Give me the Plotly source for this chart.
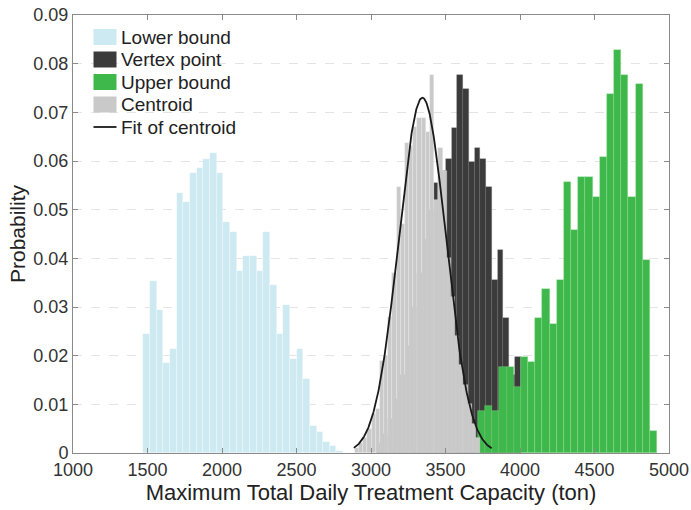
import numpy as np
import plotly.graph_objects as go

# ---- data ----
lower_start, lower_width = 1472.0, 44.7
lower_vals = [0.0245, 0.0354, 0.0294, 0.0184, 0.0214, 0.0535, 0.0515, 0.0576, 0.0585, 0.0605,
              0.0616, 0.0576, 0.0475, 0.0455, 0.0375, 0.0405, 0.0405, 0.0375, 0.0455, 0.0345,
              0.0245, 0.0304, 0.0194, 0.0214, 0.0153, 0.0055, 0.0044, 0.0023, 0.0014, 0.0005]

vertex_start, vertex_width = 3040.0, 38.6
vertex_vals = [0.002, 0.004, 0.007, 0.011, 0.016, 0.022, 0.030, 0.037, 0.044, 0.050,
               0.0554, 0.058, 0.0605, 0.0667, 0.0777, 0.0747, 0.0597, 0.0626, 0.0605, 0.0547,
               0.0355, 0.0417, 0.0277, 0.016, 0.0197]

upper_start, upper_width = 3718.0, 48.1
upper_vals = [0.0087, 0.0097, 0.0087, 0.0177, 0.0177, 0.0135, 0.0197, 0.0186, 0.0277, 0.0337,
              0.0266, 0.0356, 0.0556, 0.0458, 0.0568, 0.0568, 0.0527, 0.0609, 0.0738, 0.0828,
              0.0777, 0.0527, 0.0758, 0.0397, 0.0046]

centroid_start, centroid_width = 2892.0, 28.0
centroid_vals = [0.001, 0.002, 0.003, 0.005, 0.008, 0.009, 0.019, 0.020, 0.028, 0.037,
                 0.0547, 0.047, 0.0636, 0.063, 0.067, 0.0688, 0.0688, 0.066, 0.0777, 0.052,
                 0.0626, 0.058, 0.040, 0.032, 0.024, 0.018, 0.014, 0.010, 0.006, 0.003]

# normal fit of centroid
fit_mu, fit_sigma, fit_peak = 3345.0, 158.0, 0.0730
fit_xmin, fit_xmax = 2885.0, 3810.0

x_ticks = [1000, 1500, 2000, 2500, 3000, 3500, 4000, 4500, 5000]
y_ticks = [0, 0.01, 0.02, 0.03, 0.04, 0.05, 0.06, 0.07, 0.08, 0.09]

legend_names = ["Lower bound", "Vertex point", "Upper bound", "Centroid", "Fit of centroid"]
colors = {"Lower bound": "#cde9f1", "Vertex point": "#3b3b3b",
          "Upper bound": "#3eb84b", "Centroid": "#c9c9c9", "Fit of centroid": "#1a1a1a"}
edge_colors = {"Lower bound": "rgba(255,255,255,0.55)", "Vertex point": "rgba(110,110,110,0.5)",
               "Upper bound": "rgba(150,220,150,0.6)", "Centroid": "rgba(235,235,235,0.6)"}


def centers(start, width, vals):
    return start + width * (np.arange(len(vals)) + 0.5)


W, H = 691, 510
ML, MR, MT, MB = 73, 22, 15, 57
PW, PH = W - ML - MR, H - MT - MB

fig = go.Figure()

series = [
    ("Lower bound", lower_start, lower_width, lower_vals),
    ("Vertex point", vertex_start, vertex_width, vertex_vals),
    ("Upper bound", upper_start, upper_width, upper_vals),
    ("Centroid", centroid_start, centroid_width, centroid_vals),
]
for name, s, w, v in series:
    fig.add_trace(go.Bar(
        x=centers(s, w, v), y=v, width=w, name=name, showlegend=False,
        marker=dict(color=colors[name], line=dict(color=edge_colors[name], width=0.6)),
    ))

xf = np.linspace(fit_xmin, fit_xmax, 300)
yf = fit_peak * np.exp(-0.5 * ((xf - fit_mu) / fit_sigma) ** 2)
fig.add_trace(go.Scatter(x=xf, y=yf, mode="lines", name="Fit of centroid", showlegend=False,
                         line=dict(color=colors["Fit of centroid"], width=1.8)))

# ---- legend drawn manually (swatch + real text) ----
def px_to_paper(px, py):
    return (px - ML) / PW, 1 - (py - MT) / PH

shapes, annotations = [], []
leg_top, leg_step = 37.0, 22.5
sw_x0, sw_x1, sw_h = 93.5, 116.5, 16.0
for i, name in enumerate(legend_names):
    cy = leg_top + i * leg_step
    x0, y0 = px_to_paper(sw_x0, cy + sw_h / 2)
    x1, y1 = px_to_paper(sw_x1, cy - sw_h / 2)
    if name == "Fit of centroid":
        xa, ya = px_to_paper(sw_x0, cy)
        xb, _ = px_to_paper(sw_x1, cy)
        shapes.append(dict(type="line", xref="paper", yref="paper", x0=xa, x1=xb, y0=ya, y1=ya,
                           line=dict(color=colors[name], width=1.8)))
    else:
        shapes.append(dict(type="rect", xref="paper", yref="paper", x0=x0, x1=x1, y0=y0, y1=y1,
                           fillcolor=colors[name], line=dict(width=0)))
    tx, ty = px_to_paper(sw_x1 + 2.5, cy)
    annotations.append(dict(text=name, xref="paper", yref="paper", x=tx, y=ty,
                            xanchor="left", yanchor="middle", showarrow=False,
                            font=dict(size=19, color="#222222")))

font_family = "Liberation Sans, Arial, sans-serif"
fig.update_layout(
    width=W, height=H,
    margin=dict(l=ML, r=MR, t=MT, b=MB, autoexpand=False),
    paper_bgcolor="white", plot_bgcolor="white",
    barmode="overlay", bargap=0,
    font=dict(family=font_family, size=18, color="#333333"),
    showlegend=False,
    shapes=shapes, annotations=annotations,
)
fig.update_xaxes(
    range=[1000, 5000], tickvals=x_ticks, ticktext=[str(t) for t in x_ticks],
    showline=True, linecolor="#8a8a8a", linewidth=1, mirror="ticks",
    ticks="inside", ticklen=5, tickcolor="#8a8a8a", automargin=False,
    tickfont=dict(size=18, color="#333333"),
    showgrid=False, zeroline=False,
    title=dict(text="Maximum Total Daily Treatment Capacity (ton)",
               font=dict(size=22, color="#222222"), standoff=3),
)
fig.update_yaxes(
    range=[0, 0.09], tickvals=y_ticks, ticktext=["0"] + ["%.2f" % t for t in y_ticks[1:]],
    showline=True, linecolor="#8a8a8a", linewidth=1, mirror="ticks",
    ticks="inside", ticklen=5, tickcolor="#8a8a8a", automargin=False,
    tickfont=dict(size=18, color="#333333"),
    showgrid=True, gridcolor="rgba(205,205,205,0.55)", griddash="dash", gridwidth=1,
    zeroline=False,
    title=dict(text="Probability", font=dict(size=21, color="#222222"), standoff=2),
)

fig.write_html("out.html")
